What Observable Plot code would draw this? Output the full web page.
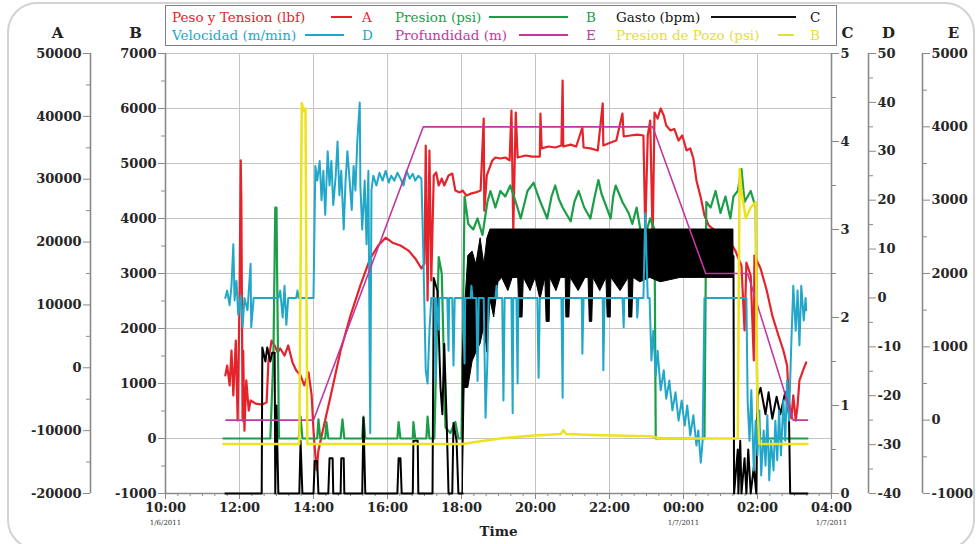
<!DOCTYPE html>
<html><head><meta charset="utf-8">
<script src="https://cdn.jsdelivr.net/npm/d3@7"></script>
<script src="https://cdn.jsdelivr.net/npm/@observablehq/plot@0.6"></script>
<style>
body{margin:0;background:#fff;}
#wrap{position:relative;width:979px;height:544px;overflow:hidden;background:#fff;}
#card{position:absolute;left:7px;top:2px;width:968px;height:548px;border:2px solid #d2d2d2;border-radius:30px;box-sizing:border-box;}
#chart{position:absolute;left:0;top:0;}
#legend{position:absolute;left:165px;top:5px;width:672px;height:41px;border:1px solid #808080;background:#fff;box-sizing:border-box;}
.lg{position:absolute;font:13.5px "DejaVu Serif",serif;white-space:nowrap;line-height:16px;}
.ln{position:absolute;height:2px;}
</style></head>
<body><div id="wrap"><div id="card"></div><div id="chart"></div>
<div id="legend"></div>
<span class="lg" style="left:172px;top:9px;color:#e5232b">Peso y Tension (lbf)</span><span class="ln" style="left:331px;width:21px;top:16px;background:#e5232b"></span><span class="lg" style="left:362px;top:9px;color:#e5232b">A</span>
<span class="lg" style="left:395px;top:9px;color:#1c9e48">Presion (psi)</span><span class="ln" style="left:489px;width:79px;top:16px;background:#1c9e48"></span><span class="lg" style="left:586px;top:9px;color:#1c9e48">B</span>
<span class="lg" style="left:616px;top:9px;color:#111">Gasto (bpm)</span><span class="ln" style="left:711px;width:85px;top:16px;background:#111"></span><span class="lg" style="left:810px;top:9px;color:#111">C</span>
<span class="lg" style="left:172px;top:27px;color:#22a7c9">Velocidad (m/min)</span><span class="ln" style="left:305px;width:39px;top:34px;background:#22a7c9"></span><span class="lg" style="left:362px;top:27px;color:#22a7c9">D</span>
<span class="lg" style="left:395px;top:27px;color:#c2379f">Profundidad (m)</span><span class="ln" style="left:519px;width:49px;top:34px;background:#c2379f"></span><span class="lg" style="left:586px;top:27px;color:#c2379f">E</span>
<span class="lg" style="left:616px;top:27px;color:#e6dc3a">Presion de Pozo (psi)</span><span class="ln" style="left:778px;width:16px;top:34px;background:#e6dc3a"></span><span class="lg" style="left:810px;top:27px;color:#e6dc3a">B</span>
</div>
<script>
// ---------- data ----------
const xTickLabels = ["10:00","12:00","14:00","16:00","18:00","20:00","22:00","00:00","02:00","04:00"];
const dateLabels = [["10:00","1/6/2011"],["00:00","1/7/2011"],["04:00","1/7/2011"]];
const aTicks = [-20000,-10000,0,10000,20000,30000,40000,50000];
const bTicks = [-1000,0,1000,2000,3000,4000,5000,6000,7000];
const cTicks = [0,1,2,3,4,5];
const dTicks = [-40,-30,-20,-10,0,10,20,30,40,50];
const eTicks = [-1000,0,1000,2000,3000,4000,5000];

// Peso y Tension (lbf) - axis A
const peso = [["11:37",-1200],["11:40",360],["11:44",-2800],["11:47",2750],["11:50",-4400],["11:54",4340],["11:57",-8400],["12:00",10700],["12:02",33000],["12:03",26600],["12:05",-8400],["12:06",2750],["12:08",-10000],["12:11",-2000],["12:15",-6800],["12:18",-5200],["12:26",-5700],["12:37",-5850],["12:44",-5500],["12:47",1160],["12:52",4340],["12:57",3550],["13:02",2430],["13:06",3070],["13:13",1950],["13:19",3550],["13:26",840],["13:32",-430],["13:39",-1200],["13:45",-2800],["13:52",-750],["13:57",-4400],["14:00",-10000],["14:03",-13950],["14:05",-16300],["14:08",-13150],["14:15",-10000],["14:28",-4400],["14:44",2750],["15:00",8300],["15:16",13100],["15:32",17400],["15:45",19450],["15:57",20700],["16:08",19900],["16:21",19450],["16:34",18650],["16:45",17400],["16:55",15800],["17:00",16600],["17:02",35360],["17:05",10700],["17:08",34570],["17:11",13900],["17:15",30600],["17:19",31070],["17:23",29000],["17:28",30100],["17:32",29000],["17:39",30600],["17:45",30900],["17:50",28200],["17:57",27900],["18:02",28200],["18:08",27400],["18:15",27700],["18:23",27900],["18:31",28200],["18:36",39650],["18:37",25000],["18:41",30600],["18:50",32980],["18:55",33450],["19:03",33300],["19:11",33450],["19:18",33000],["19:21",40930],["19:24",21840],["19:28",40600],["19:31",33450],["19:44",33770],["19:55",33600],["20:07",33600],["20:08",40450],["20:10",34900],["20:21",35200],["20:32",35050],["20:42",35360],["20:44",45700],["20:45",35200],["20:57",35500],["21:06",35200],["21:16",38230],["21:18",35050],["21:29",34900],["21:41",34570],["21:49",42050],["21:50",35360],["22:02",35840],["22:11",36160],["22:21",40450],["22:23",36800],["22:34",36950],["22:45",37100],["22:55",36950],["22:58",21840],["23:02",36950],["23:06",39340],["23:10",20250],["23:13",40600],["23:18",39650],["23:23",41250],["23:28",40130],["23:32",38550],["23:39",37750],["23:45",38000],["23:52",36160],["23:58",36950],["00:05",34570],["00:11",34900],["00:16",33300],["00:21",29800],["00:28",27100],["00:34",24230],["00:41",22640],["00:47",22160],["00:57",21500],["01:06",20900],["01:16",19930],["01:24",18660],["01:29",17400],["01:34",16270],["01:39",5930],["01:42",16750],["01:49",14680],["01:54",1160],["01:55",17860],["02:05",15800],["02:15",12300],["02:24",8300],["02:34",5140],["02:42",2750],["02:48",360],["02:51",-5200],["02:55",-8070],["02:58",-4400],["03:02",-8390],["03:05",-6000],["03:08",-2000],["03:11",-1200],["03:15",-110],["03:19",840]];

// Presion (psi) - axis B
const presion = [["11:34",0],["12:50",0],["12:55",1500],["12:58",4200],["13:00",4200],["13:01",3000],["13:04",0],["13:36",0],["13:39",400],["13:42",0],["14:06",0],["14:08",350],["14:11",0],["14:19",0],["14:21",300],["14:24",0],["14:44",0],["14:47",350],["14:50",0],["15:19",0],["15:21",400],["15:24",0],["16:16",0],["16:18",300],["16:21",0],["16:41",0],["16:42",300],["16:45",0],["17:03",0],["17:05",400],["17:08",0],["17:16",0],["17:23",3300],["17:28",3000],["17:34",200],["17:42",100],["17:50",300],["17:55",0],["18:00",0],["18:05",4400],["18:11",3900],["18:19",3800],["18:26",4000],["18:34",3700],["18:42",4300],["18:47",4500],["18:55",4200],["19:03",4500],["19:11",4400],["19:19",4600],["19:28",4300],["19:36",4000],["19:47",4500],["19:57",4650],["20:03",4450],["20:08",4300],["20:19",4000],["20:26",4400],["20:32",4600],["20:38",4350],["20:44",4200],["20:57",3950],["21:03",4300],["21:10",4500],["21:19",4200],["21:29",4000],["21:36",4400],["21:42",4700],["21:47",4450],["21:52",4300],["22:02",4000],["22:06",4400],["22:10",4600],["22:21",4300],["22:31",4100],["22:37",3900],["22:44",4200],["22:50",3800],["22:58",3700],["23:06",4000],["23:13",3800],["23:15",0],["00:34",0],["00:37",4300],["00:44",4200],["00:52",4500],["01:00",4100],["01:08",4400],["01:16",4000],["01:21",4400],["01:28",4500],["01:34",4900],["01:39",4300],["01:49",4500],["01:57",4200],["02:00",0],["03:21",0]];

// Gasto (bpm) - axis C
const gastoA = [["11:37",0],["12:36",0],["12:37",1.66],["12:42",1.5],["12:45",1.66],["12:50",1.5],["12:53",1.6],["12:57",1.6],["12:58",0],["13:00",1.0],["13:03",0],["13:37",0],["13:39",0.6],["13:42",0],["14:00",0],["14:02",0.37],["14:06",0.37],["14:08",0],["14:24",0],["14:26",0.4],["14:31",0.4],["14:32",0],["14:44",0],["14:45",0.4],["14:49",0.4],["14:50",0],["15:19",0],["15:21",0.86],["15:24",0],["16:16",0],["16:18",0.4],["16:21",0.4],["16:23",0],["16:41",0],["16:42",0.6],["16:49",0.6],["16:50",0],["17:13",0],["17:15",2.45],["17:21",2.3],["17:26",1.2],["17:29",0.9],["17:32",1.7],["17:36",0.8],["17:39",0],["17:45",0],["17:47",0.8],["17:52",0.6],["17:55",0],["18:02",0]];
// [time, low, high] envelope of the dense pumping band
const gastoBand = [["18:02",0,1.55],["18:05",1.2,2.0],["18:11",1.2,2.7],["18:18",1.5,2.75],["18:24",1.6,2.6],["18:31",1.7,2.9],["18:37",1.9,2.6],["18:42",1.6,2.9],["18:47",2.2,3.0],["18:53",2.0,3.0],["19:00",2.4,3.0],["19:06",2.45,3.0],["19:16",2.3,3.0],["19:23",2.45,3.0],["19:32",2.45,3.0],["19:34",2.0,3.0],["19:39",2.0,3.0],["19:41",2.45,3.0],["19:52",2.3,3.0],["20:00",2.45,3.0],["20:08",2.2,3.0],["20:16",2.45,3.0],["20:18",1.95,3.0],["20:23",1.95,3.0],["20:24",2.45,3.0],["20:34",2.3,3.0],["20:41",2.45,3.0],["20:49",2.45,3.0],["20:50",2.0,3.0],["20:55",2.0,3.0],["20:57",2.45,3.0],["21:10",2.3,3.0],["21:21",2.45,3.0],["21:26",2.45,3.0],["21:28",1.95,3.0],["21:32",1.95,3.0],["21:34",2.45,3.0],["21:45",2.3,3.0],["21:55",2.45,3.0],["21:57",2.0,3.0],["22:02",2.0,3.0],["22:03",2.45,3.0],["22:18",2.3,3.0],["22:31",2.45,3.0],["22:32",2.0,3.0],["22:37",2.0,3.0],["22:39",2.45,3.0],["22:50",2.4,3.0],["23:06",2.45,3.0],["23:23",2.4,3.0],["23:55",2.45,3.0],["00:28",2.45,3.0],["01:00",2.45,3.0],["01:21",2.45,3.0]];
const gastoB = [["01:21",2.7],["01:22",0],["01:28",0.5],["01:29",0],["01:32",0.6],["01:34",0],["01:39",0.4],["01:42",0],["01:45",0.5],["01:49",0],["01:54",0.3],["01:58",0],["02:00",1.1],["02:05",1.2],["02:13",0.9],["02:18",1.15],["02:24",0.85],["02:31",1.1],["02:37",0.9],["02:45",1.15],["02:51",0.9],["02:53",0],["03:21",0]];

// Velocidad (m/min) - axis D
const velocidad = [["11:37",0],["11:40",1.5],["11:44",-1.5],["11:47",2.5],["11:50",11],["11:52",-0.5],["11:55",3.5],["11:58",-3.5],["12:02",0.5],["12:05",-6],["12:08",0],["12:13",-2.5],["12:18",7],["12:19",-6],["12:23",0],["13:03",0],["13:06",1.5],["13:10",-4],["13:13",2.5],["13:16",-5.5],["13:19",0],["13:32",0],["13:34",1.5],["13:36",0],["14:00",0],["14:03",27],["14:06",24],["14:10",28],["14:13",20],["14:16",26],["14:19",17],["14:23",30],["14:26",23],["14:29",28],["14:32",19],["14:36",25],["14:39",32],["14:42",21],["14:45",26],["14:49",14],["14:52",24],["14:55",30],["14:58",25],["15:02",18],["15:05",27],["15:08",22],["15:11",32],["15:15",40],["15:16",23],["15:19",14],["15:23",24],["15:26",11],["15:29",26],["15:32",-27.7],["15:34",22],["15:37",25],["15:42",23],["15:47",25.6],["15:52",24],["15:57",26],["16:02",23.6],["16:06",25],["16:11",24],["16:16",25.6],["16:21",24.4],["16:26",23],["16:31",26],["16:36",24.4],["16:41",25.4],["16:45",24],["16:50",25],["16:55",24.4],["16:58",9.7],["17:02",-14.8],["17:05",-17.5],["17:08",-6.7],["17:11",0],["17:16",0],["17:18",-16.9],["17:19",0],["17:23",-6.5],["17:24",0],["17:37",0],["17:39",-10.8],["17:40",0],["17:45",0],["17:47",-13.8],["17:49",0],["18:02",0],["18:05",-13.4],["18:06",0],["18:15",0],["18:16",2.5],["18:18",0],["18:24",0],["18:26",-17],["18:28",0],["18:36",0],["18:39",-24.5],["18:42",-12.8],["18:44",0],["18:55",0],["18:57",2.5],["18:58",0],["19:06",0],["19:08",-21],["19:10",0],["19:21",0],["19:23",-23.6],["19:24",0],["19:29",0],["19:31",-17.5],["19:32",0],["20:03",0],["20:05",-16.3],["20:07",0],["20:42",0],["20:44",-20.4],["20:45",0],["21:15",0],["21:16",-11.4],["21:18",0],["21:49",0],["21:50",-14.8],["21:52",0],["22:21",0],["22:23",-6],["22:24",0],["22:44",0],["22:45",-4],["22:47",0],["22:55",0],["22:58",17.3],["23:02",0],["23:05",0],["23:08",-12.8],["23:11",-6.7],["23:15",-15.9],["23:18",-10.8],["23:23",-18.9],["23:28",-14.8],["23:32",-20.6],["23:37",-16.9],["23:42",-23],["23:47",-19.3],["23:52",-25.1],["23:57",-21],["00:02",-26.1],["00:06",-22],["00:11",-28.1],["00:16",-24],["00:21",-30.2],["00:24",-27.1],["00:28",-33.7],["00:31",-29.2],["00:34",0],["01:42",0],["01:44",-21],["01:47",-29.2],["01:50",-18.9],["01:54",-35.3],["01:57",-25.1],["02:00",-32.2],["02:03",-23],["02:06",-36.3],["02:10",-27.1],["02:13",-34.3],["02:16",-24],["02:19",-37.3],["02:22",-29.2],["02:26",-35.3],["02:29",-25.1],["02:32",-33.2],["02:35",-23],["02:38",-32.2],["02:42",-21],["02:45",-29.2],["02:48",-16.9],["02:51",-25.1],["02:55",-8.7],["02:58",2.5],["03:02",-6.7],["03:05",1.5],["03:08",-9.7],["03:11",2.5],["03:15",-4.6],["03:18",0],["03:19",-2.5]];

// Profundidad (m) - axis E
const profundidad = [["11:38",0],["14:00",0],["16:58",4000],["23:10",4000],["00:36",2000],["01:44",2000],["02:58",0],["03:21",0]];

// Presion de Pozo (psi) - axis B
const pozo = [["11:34",-100],["13:37",-100],["13:41",6100],["13:44",5950],["13:47",6000],["13:50",-100],["18:02",-100],["18:31",-50],["19:03",0],["19:52",50],["20:41",80],["20:45",150],["20:50",80],["21:45",60],["23:06",40],["23:23",0],["01:28",0],["01:31",4900],["01:34",4500],["01:41",4000],["01:49",4200],["01:57",4300],["02:00",500],["02:03",-100],["03:21",-100]];

// ---------- helpers ----------
function T(s){const [h,m]=s.split(":").map(Number);return new Date(2011,0,h<10?7:6,h,m);}
const X0 = T(xTickLabels[0]), X1 = T(xTickLabels[xTickLabels.length-1]);
const bMin = bTicks[0], bMax = bTicks[bTicks.length-1], bSpan = bMax-bMin;
function lin(ticks){const lo=ticks[0],hi=ticks[ticks.length-1];return {to:v=>bMin+(v-lo)*bSpan/(hi-lo),from:b=>lo+(b-bMin)*(hi-lo)/bSpan};}
const S = {A:lin(aTicks),B:lin(bTicks),C:lin(cTicks),D:lin(dTicks),E:lin(eTicks)};

const AX = "#8a8a8a", TXT = "#262626";
function yAxis(key, ticks, anchor, dx){
  const s = S[key];
  const step = ticks[1]-ticks[0];
  const minor = ticks.slice(0,-1).map(t=>s.to(t+step/2));
  return [
    Plot.ruleX([anchor==="left"?X0:X1],{x:d=>d,y1:()=>s.to(ticks[0]),y2:()=>s.to(ticks[ticks.length-1]),dx,stroke:AX,strokeWidth:1.6}),
    Plot.axisY(ticks.map(s.to),{anchor,dx,tickSize:7,tickPadding:2,stroke:AX,fill:TXT,tickFormat:b=>String(Math.round(s.from(b)))}),
    Plot.axisY(minor,{anchor,dx,tickSize:4,stroke:AX,tickFormat:()=>""})
  ];
}
function title(txt, at, dx){
  return Plot.text([txt],{x:()=>at,y:()=>bMax,dx,dy:-20,text:d=>d,fontSize:15,fill:"#222"});
}

const xTicks = xTickLabels.map(T);
const xMinor = d3.timeMinute.every(20).range(X0,X1).filter(d=>(d-X0)%(7200000)!==0);
const xGrid = xTicks.slice(1,-1);
const yGrid = bTicks.slice(1);

const chart = Plot.plot({
  width:979, height:544,
  marginLeft:165, marginRight:148, marginTop:53, marginBottom:51,
  x:{type:"time",domain:[X0,X1]},
  y:{domain:[bMin,bMax]},
  style:{fontFamily:"'DejaVu Serif', serif",fontSize:"13px",fontWeight:"bold",background:"transparent",color:TXT},
  marks:[
    Plot.ruleX(xGrid,{x:d=>d,stroke:"#c4c4c4",strokeWidth:1}),
    Plot.ruleY(yGrid,{y:d=>d,stroke:"#c4c4c4",strokeWidth:1}),
    Plot.ruleY([bMin],{y:d=>d,stroke:AX,strokeWidth:1.6}),
    Plot.axisX(xTicks,{anchor:"bottom",tickSize:6,tickPadding:3,stroke:AX,fill:TXT,tickFormat:d3.timeFormat("%H:%M")}),
    Plot.axisX(xMinor,{anchor:"bottom",tickSize:3,stroke:AX,tickFormat:()=>""}),
    Plot.text(dateLabels,{x:d=>T(d[0]),y:()=>bMin,dy:29,text:d=>d[1],fontSize:7,fontWeight:"normal",fill:"#333"}),
    Plot.text(["Time"],{frameAnchor:"bottom",dy:42,text:d=>d,fontSize:13.5,fill:"#222"}),
    ...yAxis("A",aTicks,"left",-75),
    ...yAxis("B",bTicks,"left",0),
    ...yAxis("C",cTicks,"right",0),
    ...yAxis("D",dTicks,"right",37),
    ...yAxis("E",eTicks,"right",91),
    title("A",X0,-108), title("B",X0,-30), title("C",X1,16), title("D",X1,57), title("E",X1,122),
    // series
    Plot.line(peso,{x:d=>T(d[0]),y:d=>S.A.to(d[1]),stroke:"#e5232b",strokeWidth:2.2}),
    Plot.line(presion,{x:d=>T(d[0]),y:d=>S.B.to(d[1]),stroke:"#1c9e48",strokeWidth:2.2}),
    Plot.areaY(gastoBand,{x:d=>T(d[0]),y1:d=>S.C.to(d[1]),y2:d=>S.C.to(d[2]),fill:"#000",stroke:"#000",strokeWidth:1}),
    Plot.line(gastoA,{x:d=>T(d[0]),y:d=>S.C.to(d[1]),stroke:"#000",strokeWidth:2}),
    Plot.line(gastoB,{x:d=>T(d[0]),y:d=>S.C.to(d[1]),stroke:"#000",strokeWidth:2}),
    Plot.line(velocidad,{x:d=>T(d[0]),y:d=>S.D.to(d[1]),stroke:"#22a7c9",strokeWidth:2}),
    Plot.line(profundidad,{x:d=>T(d[0]),y:d=>S.E.to(d[1]),stroke:"#c2379f",strokeWidth:1.6}),
    Plot.line(pozo,{x:d=>T(d[0]),y:d=>S.B.to(d[1]),stroke:"#eee21c",strokeWidth:2.5})
  ]
});
document.getElementById("chart").appendChild(chart);
</script>
</body></html>
